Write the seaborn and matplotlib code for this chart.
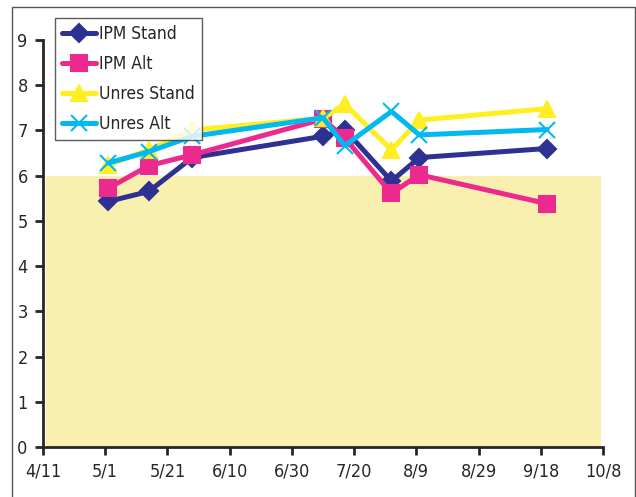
import matplotlib
matplotlib.use("Agg")
import matplotlib.pyplot as plt
from matplotlib.patches import Rectangle
import seaborn as sns
import pandas as pd

# data
dates = ["2001-05-02", "2001-05-15", "2001-05-29", "2001-07-10",
         "2001-07-17", "2001-08-01", "2001-08-10", "2001-09-20"]
ipm_stand = [5.43, 5.65, 6.40, 6.87, 7.02, 5.88, 6.40, 6.60]
ipm_alt = [5.72, 6.22, 6.46, 7.25, 6.83, 5.61, 6.02, 5.38]
unres_stand = [6.24, 6.57, 7.01, 7.27, 7.58, 6.57, 7.23, 7.48]
unres_alt = [6.28, 6.53, 6.87, 7.28, 6.66, 7.42, 6.90, 7.02]
series_names = ["IPM Stand", "IPM Alt", "Unres Stand", "Unres Alt"]
tick_labels = ["4/11", "5/1", "5/21", "6/10", "6/30", "7/20", "8/9", "8/29", "9/18", "10/8"]
threshold = 6
band_start, band_end = "2001-04-12 00:00", "2001-10-07 12:00"

colors = ["#2E3192", "#EC2A8E", "#FFEE22", "#00B9F0"]
markers = ["D", "s", "^", "x"]
msizes = [9, 11, 11, 12]

df = pd.DataFrame({"date": pd.to_datetime(dates),
                   "IPM Stand": ipm_stand, "IPM Alt": ipm_alt,
                   "Unres Stand": unres_stand, "Unres Alt": unres_alt})

sns.set_style("ticks")
plt.rcParams["font.family"] = ["DejaVu Sans"]
plt.rcParams["font.stretch"] = "condensed"

fig = plt.figure(figsize=(6.36, 4.97), dpi=100)
ax = fig.add_axes([0.0676, 0.1006, 0.8805, 0.819])

# outer frame like the source
fig.patches.append(Rectangle((12 / 636, -0.05), 623 / 636, 1.05 - 7 / 497,
                             transform=fig.transFigure, fill=False,
                             edgecolor="#555555", linewidth=1))

ax.fill_between(pd.to_datetime([band_start, band_end]), 0, threshold,
                color="#F9F0B0", linewidth=0, zorder=0)

for name, c, m, ms in zip(series_names, colors, markers, msizes):
    sns.lineplot(data=df, x="date", y=name, ax=ax, color=c, linewidth=3.6,
                 marker=m, markersize=ms, markeredgecolor=c,
                 markeredgewidth=1.5, label=name)

ticks = pd.date_range("2001-04-11", periods=10, freq="20D")
ax.set_xticks(ticks)
ax.set_xticklabels(tick_labels)
ax.set_xlim(ticks[0], ticks[-1])
ax.set_ylim(0, 9)
ax.set_yticks(range(10))
ax.set_xlabel("")
ax.set_ylabel("")
sns.despine(ax=ax)
for s in ["left", "bottom"]:
    ax.spines[s].set_linewidth(2)
ax.tick_params(axis="both", width=2, length=6, labelsize=13, direction="out",
               pad=5)

leg = ax.legend(loc="upper left", bbox_to_anchor=(0.021, 1.054), frameon=True,
                fancybox=False, edgecolor="#333333", fontsize=12.5,
                handlelength=2.0, handletextpad=0.15, borderpad=0.4,
                labelspacing=0.7, borderaxespad=0)
leg.get_frame().set_linewidth(1)

fig.savefig("out.png", dpi=100)
